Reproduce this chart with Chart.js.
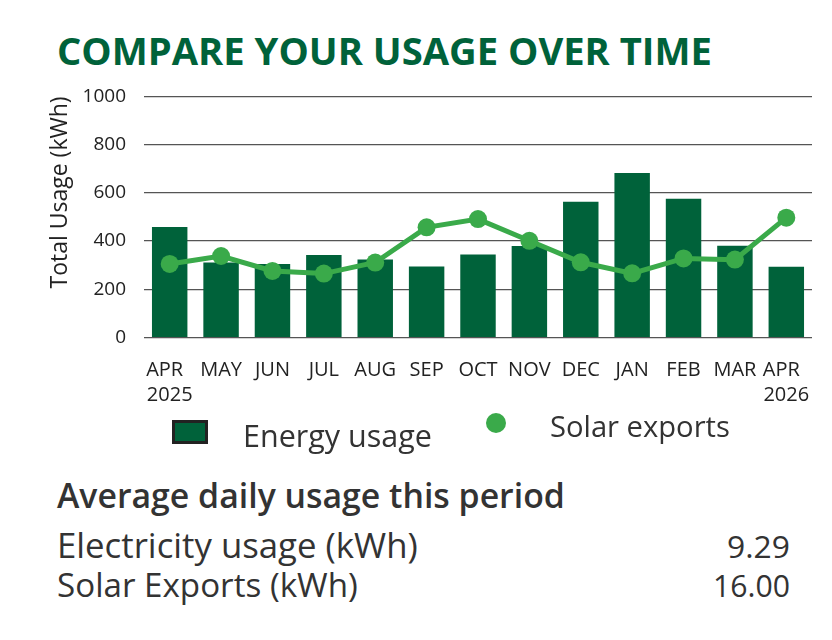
<!DOCTYPE html>
<html>
<head>
<meta charset="utf-8">
<script src="https://cdn.jsdelivr.net/npm/chart.js@4"></script>
<style>
  html, body { margin: 0; padding: 0; background: #fff; }
  body { width: 832px; height: 640px; position: relative; overflow: hidden; font-family: 'Open Sans', sans-serif; }
  .t { position: absolute; white-space: nowrap; line-height: 1; display: inline-block; color: #333; }
  #title { color: #00623A; font-weight: 700; }
  #avgHead { font-weight: 600; }
  #chartWrap { position: absolute; left: 0; top: 67px; width: 832px; height: 343px; }
  .legBox { position: absolute; left: 172px; top: 420px; width: 30px; height: 18px; background: #00623A; border: 3px solid #222; }
  .legDot { position: absolute; left: 486px; top: 413px; width: 20px; height: 20px; border-radius: 50%; background: #3AAA4A; }
</style>
</head>
<body>
<div id="title" class="t">COMPARE YOUR USAGE OVER TIME</div>
<div id="chartWrap"><canvas id="c" width="832" height="343"></canvas></div>
<div class="legBox"></div>
<div id="legE" class="t">Energy usage</div>
<div class="legDot"></div>
<div id="legS" class="t">Solar exports</div>
<div id="avgHead" class="t">Average daily usage this period</div>
<div id="elecLbl" class="t">Electricity usage (kWh)</div>
<div id="elecVal" class="t"></div>
<div id="solLbl" class="t">Solar Exports (kWh)</div>
<div id="solVal" class="t"></div>
<script>
const categories = [['APR','2025'],'MAY','JUN','JUL','AUG','SEP','OCT','NOV','DEC','JAN','FEB','MAR',['APR','2026']];
const energyUsage = [458, 311, 305, 342, 324, 295, 344, 379, 563, 682, 576, 381, 293];
const solarExports = [305, 338, 276, 265, 311, 457, 491, 401, 312, 266, 328, 323, 497];
const yTicks = [0, 200, 400, 600, 800, 1000];
const avgElectricity = '9.29';
const avgSolar = '16.00';

document.getElementById('elecVal').textContent = avgElectricity;
document.getElementById('solVal').textContent = avgSolar;

function place(id, x0, x1, baseY) {
  const el = document.getElementById(id);
  el.style.fontSize = '100px';
  el.style.left = '0px'; el.style.top = '0px';
  const w = el.getBoundingClientRect().width;
  const size = 100 * (x1 - x0) / w;
  el.style.fontSize = size + 'px';
  const m = document.createElement('span');
  m.style.display = 'inline-block'; m.style.width = '0'; m.style.height = '0'; m.style.verticalAlign = 'baseline';
  el.appendChild(m);
  const off = m.getBoundingClientRect().top - el.getBoundingClientRect().top;
  el.removeChild(m);
  el.style.left = x0 + 'px';
  el.style.top = (baseY - off) + 'px';
}
place('title', 57, 712, 65);
place('legE', 243, 432, 447);
place('legS', 550, 730, 437);
place('avgHead', 57, 565, 508);
place('elecLbl', 57, 418, 558);
place('elecVal', 727, 790, 558);
place('solLbl', 57, 358, 597);
place('solVal', 713, 790, 597);

const font = "'Open Sans', sans-serif";
new Chart(document.getElementById('c'), {
  data: {
    labels: categories,
    datasets: [
      {
        type: 'line', label: 'Solar exports', data: solarExports, order: 0,
        borderColor: '#3AAA4A', backgroundColor: '#3AAA4A', borderWidth: 5,
        pointRadius: 9, pointBackgroundColor: '#3AAA4A', pointBorderColor: '#3AAA4A', pointBorderWidth: 0,
        tension: 0
      },
      {
        type: 'bar', label: 'Energy usage', data: energyUsage, order: 1,
        backgroundColor: '#00623A', borderWidth: 0,
        barPercentage: 0.69, categoryPercentage: 1
      }
    ]
  },
  options: {
    responsive: false, animation: false,
    layout: { padding: { top: 2, right: 20, bottom: 0, left: 0 } },
    plugins: { legend: { display: false }, tooltip: { enabled: false } },
    scales: {
      x: {
        offset: true,
        grid: { display: false }, border: { display: false },
        ticks: {
          color: '#222', font: { family: font, size: 20, lineHeight: 1.25 }, padding: 12, maxRotation: 0, autoSkip: false,
          callback: function (v) {
            const l = this.getLabelForValue(v);
            return Array.isArray(l) ? [l[0] + '\u2002', l[1]] : l;
          }
        },
        afterFit: s => { s.height = 72.5; }
      },
      y: {
        min: 0, max: 1000,
        afterBuildTicks: s => { s.ticks = yTicks.map(v => ({ value: v })); },
        grid: { color: '#555', lineWidth: 1.2, drawTicks: false }, border: { display: false },
        ticks: { color: '#222', font: { family: font, size: 19 }, padding: 18, callback: v => String(v) },
        title: { display: true, text: 'Total Usage (kWh)', color: '#222', align: 'end', font: { family: font, size: 23 }, padding: { top: 47, bottom: 0 } },
        afterFit: s => { s.width = 144; }
      }
    }
  }
});
</script>
</body>
</html>
